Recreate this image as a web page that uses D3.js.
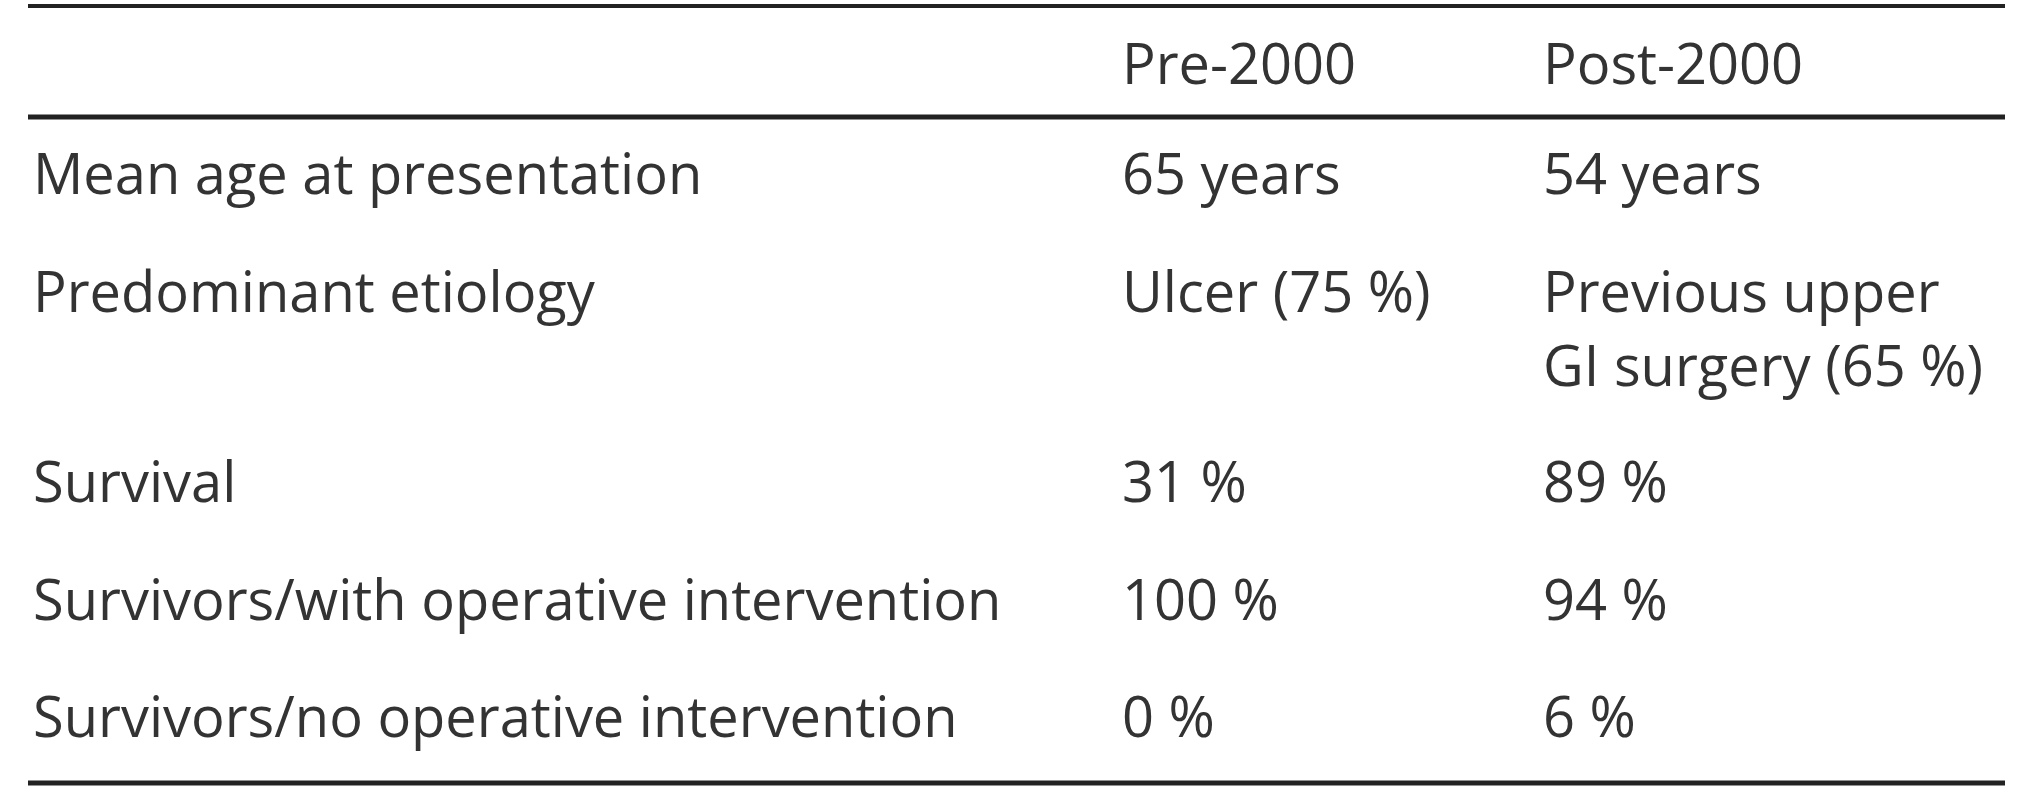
<!DOCTYPE html>
<html><head><meta charset="utf-8">
<script src="https://cdn.jsdelivr.net/npm/d3@7"></script>
<style>body{margin:0;background:#fff}</style></head>
<body><svg id="c" width="2042" height="800"></svg>
<script>
const headers = ["", "Pre-2000", "Post-2000"];
const rowLabels = ["Mean age at presentation", "Predominant etiology", "Survival", "Survivors/with operative intervention", "Survivors/no operative intervention"];
const pre2000 = [["65 years"], ["Ulcer (75 %)"], ["31 %"], ["100 %"], ["0 %"]];
const post2000 = [["54 years"], ["Previous upper", "GI surgery (65 %)"], ["89 %"], ["94 %"], ["6 %"]];
const rowBaselines = [194, 312, 502, 620, 737];

const svg = d3.select("#c");
const colX = [33, 1122, 1543];
const font = "'Open Sans', sans-serif";
const lineH = 74;

[6, 117, 783].forEach((y, i) => {
  svg.append("line").attr("x1", 28).attr("x2", 2005).attr("y1", y).attr("y2", y)
    .attr("stroke", "#222").attr("stroke-width", i === 0 ? 4 : 5);
});

const txt = (x, y, s) => svg.append("text").attr("x", x).attr("y", y)
  .attr("font-family", font).attr("font-size", 56).attr("fill", "#333").text(s);

headers.forEach((h, i) => { if (h) txt(colX[i], 84, h); });
rowLabels.forEach((l, r) => {
  txt(colX[0], rowBaselines[r], l);
  pre2000[r].forEach((s, k) => txt(colX[1], rowBaselines[r] + k * lineH, s));
  post2000[r].forEach((s, k) => txt(colX[2], rowBaselines[r] + k * lineH, s));
});
</script></body></html>
